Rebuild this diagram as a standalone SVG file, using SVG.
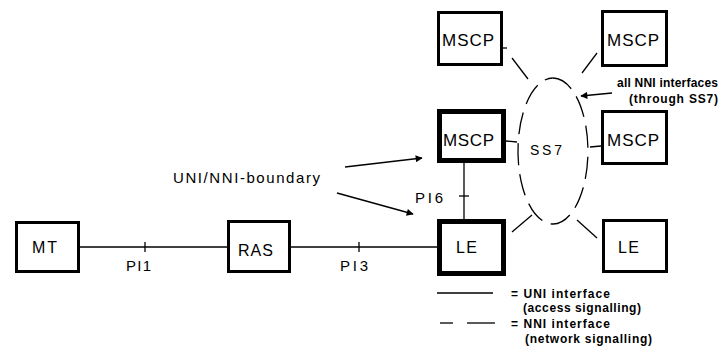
<svg xmlns="http://www.w3.org/2000/svg" width="727" height="347" viewBox="0 0 727 347">
<defs>
<style>
.box{fill:#fff;stroke:#000;stroke-width:3}
.thick{stroke-width:5}
.ln{stroke:#000;stroke-width:1.3;fill:none}
.dash{stroke:#000;stroke-width:1.3;fill:none}
.lbl{font-family:"Liberation Sans",Arial,sans-serif;fill:#000}
.node{font-size:17px}
.small{font-size:12px;font-weight:bold}
</style>
<marker id="ah" viewBox="0 0 10 10" refX="9" refY="5" markerWidth="10" markerHeight="7" markerUnits="userSpaceOnUse" orient="auto">
<path d="M0,0 L10,5 L0,10 z" fill="#000"/>
</marker>
</defs>
<rect width="727" height="347" fill="#fff"/>

<g id="connectors">
<line class="ln" x1="80" y1="247" x2="227" y2="247"/>
<line class="ln" x1="145" y1="242" x2="145" y2="252"/>
<line class="ln" x1="291" y1="247" x2="437" y2="247"/>
<line class="ln" x1="359" y1="242" x2="359" y2="252"/>
<line class="ln" x1="464" y1="163" x2="464" y2="219"/>
<line class="ln" x1="459" y1="196" x2="469" y2="196"/>
<path class="dash" stroke-dasharray="22 9" d="M553,78 A35,73 0 1,1 552.9,78"/>
<line class="dash" x1="512" y1="58" x2="528" y2="79"/>
<line class="dash" x1="503" y1="48" x2="507" y2="48"/>
<line class="dash" x1="597" y1="53" x2="582" y2="73"/>
<line class="dash" x1="506" y1="141" x2="517" y2="142"/>
<line class="dash" x1="590" y1="147" x2="601" y2="146"/>
<line class="dash" x1="512" y1="232" x2="532" y2="215"/>
<line class="dash" x1="577" y1="220" x2="597" y2="238"/>
<line class="ln" x1="612" y1="93" x2="581" y2="96" marker-end="url(#ah)"/>
<line class="ln" x1="345" y1="167" x2="422" y2="158" marker-end="url(#ah)"/>
<line class="ln" x1="337" y1="193" x2="413" y2="214" marker-end="url(#ah)"/>
</g>

<g id="MT">
<rect class="box" x="16.5" y="222.5" width="62" height="49"/>
<text class="lbl" x="32" y="253" font-size="16" textLength="25">MT</text>
</g>
<g id="RAS">
<rect class="box" x="228.5" y="221.5" width="61" height="50"/>
<text class="lbl" x="238" y="256" font-size="16" textLength="35">RAS</text>
</g>
<g id="LE1">
<rect class="box thick" x="439.5" y="221.5" width="64" height="52"/>
<text class="lbl" x="456" y="253" font-size="16" textLength="21">LE</text>
</g>
<g id="MSCP_center">
<rect class="box thick" x="439.5" y="111.5" width="64" height="49"/>
<text class="lbl node" x="443" y="146" textLength="51">MSCP</text>
</g>
<g id="MSCP_topleft">
<rect class="box" x="438.5" y="12.5" width="63" height="52"/>
<text class="lbl node" x="442" y="46" textLength="52">MSCP</text>
</g>
<g id="MSCP_topright">
<rect class="box" x="602.5" y="11.5" width="64" height="54"/>
<text class="lbl node" x="607" y="46" textLength="52">MSCP</text>
</g>
<g id="MSCP_right">
<rect class="box" x="602.5" y="111.5" width="64" height="52"/>
<text class="lbl node" x="607" y="146" textLength="52">MSCP</text>
</g>
<g id="LE2">
<rect class="box" x="603.5" y="220.5" width="63" height="51"/>
<text class="lbl" x="618" y="253" font-size="16" textLength="21">LE</text>
</g>
<g id="SS7">
<text class="lbl" x="530" y="155" font-size="14" textLength="32">SS7</text>
</g>

<g id="labels">
<text class="lbl" x="126" y="271" font-size="15" textLength="25">PI1</text>
<text class="lbl" x="340" y="271" font-size="15" textLength="28">PI3</text>
<text class="lbl" x="415" y="203" font-size="15" textLength="28">PI6</text>
<text class="lbl" x="173" y="183" font-size="15" textLength="147">UNI/NNI-boundary</text>
<text class="lbl small" x="617" y="87" textLength="101">all NNI interfaces</text>
<text class="lbl small" x="629" y="103" textLength="89">(through SS7)</text>
</g>

<g id="legend">
<line class="ln" x1="437" y1="293" x2="493" y2="293"/>
<line class="ln" x1="440" y1="323" x2="453" y2="323"/>
<line class="ln" x1="467" y1="323" x2="495" y2="323"/>
<text class="lbl small" x="511" y="298" textLength="99">= UNI interface</text>
<text class="lbl small" x="523" y="312" textLength="118">(access signalling)</text>
<text class="lbl small" x="511" y="328" textLength="99">= NNI interface</text>
<text class="lbl small" x="525" y="343" textLength="127">(network signalling)</text>
</g>
</svg>
